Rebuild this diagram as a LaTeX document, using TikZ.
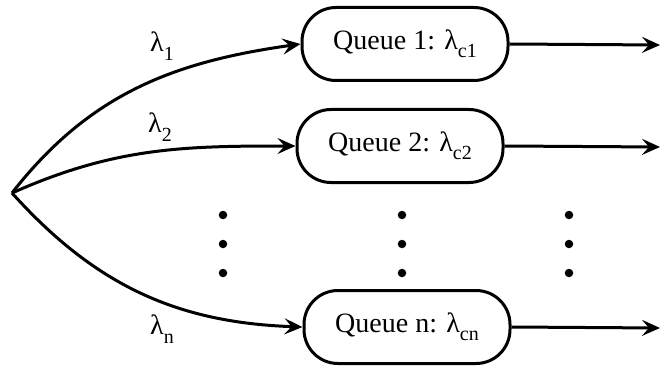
\documentclass[tikz,border=0pt]{standalone}
\usepackage{fontspec}
\setmainfont{Liberation Serif}
\usetikzlibrary{arrows.meta}
\newcommand{\lsub}[1]{\raisebox{-0.3em}{\fontsize{20}{20}\selectfont #1}}
\begin{document}
\begin{tikzpicture}[x=1pt,y=-1pt,
  queuebox/.style={draw,line width=3pt,rounded corners=34pt,minimum width=206pt,minimum height=73pt,inner sep=0pt,font=\fontsize{28}{28}\selectfont},
  lab/.style={inner sep=0pt,font=\fontsize{28}{28}\selectfont},
  flow/.style={line width=3pt,-{Stealth[length=18pt,width=16pt,inset=7pt]}},
  dotmark/.style={circle,fill=black,inner sep=0pt,minimum size=8.5pt}]
\useasboundingbox (0,0) rectangle (660,366);
\node[queuebox] (q1) at (405,44) {Queue 1: λ\lsub{c1}};
\node[queuebox] (q2) at (400,146) {Queue 2: λ\lsub{c2}};
\node[queuebox] (qn) at (407,327) {Queue n: λ\lsub{cn}};
\coordinate (s) at (12,193);
\coordinate (o1) at (660,45);
\coordinate (o2) at (660,147);
\coordinate (on) at (660,328);
\draw[flow] (s) to[out=52,in=188] (q1.west);
\draw[flow] (s) to[out=24,in=180] (q2.west);
\draw[flow] (s) to[out=-48,in=178] (qn.west);
\draw[flow] (q1.east) -- (o1);
\draw[flow] (q2.east) -- (o2);
\draw[flow] (qn.east) -- (on);
\node[lab] (l1) at (162,46) {λ\lsub{1}};
\node[lab] (l2) at (160,127) {λ\lsub{2}};
\node[lab] (ln) at (162,329) {λ\lsub{n}};
\foreach \x/\n in {223/a,402/b,569/c}{
  \node[dotmark] (\n1) at (\x,215) {};
  \node[dotmark] (\n2) at (\x,244) {};
  \node[dotmark] (\n3) at (\x,273) {};
}
\end{tikzpicture}
\end{document}
